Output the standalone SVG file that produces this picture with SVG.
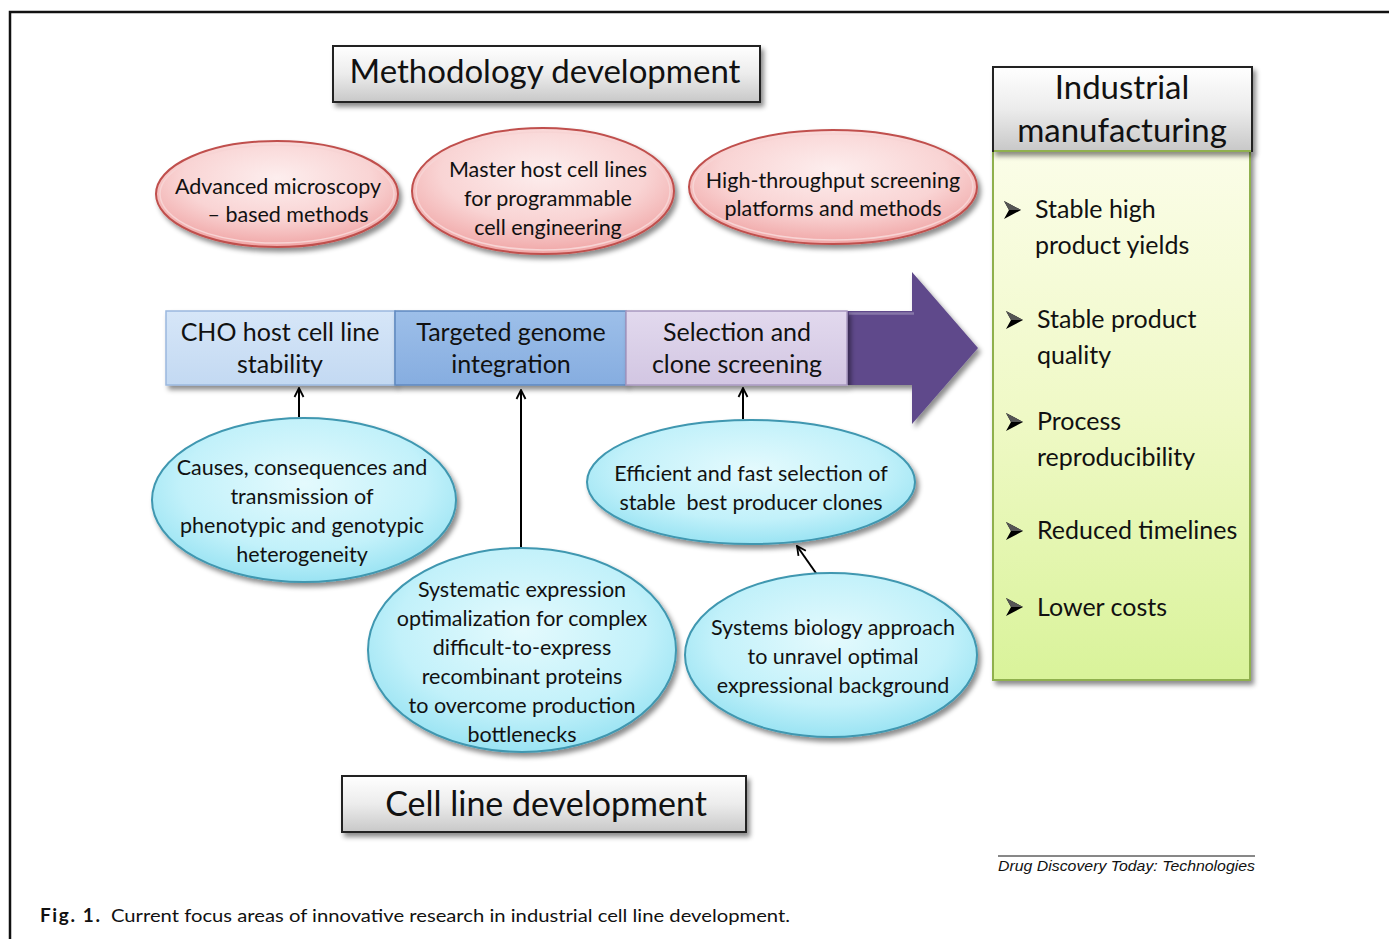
<svg xmlns="http://www.w3.org/2000/svg" width="1389" height="939" viewBox="0 0 1389 939">
  <defs>
    <filter id="shadow" x="-10%" y="-10%" width="125%" height="130%">
      <feDropShadow dx="3" dy="4" stdDeviation="2.5" flood-color="#000" flood-opacity="0.45"/>
    </filter>
    <linearGradient id="grayBox" x1="0" y1="0" x2="0" y2="1">
      <stop offset="0" stop-color="#ffffff"/>
      <stop offset="0.5" stop-color="#ececec"/>
      <stop offset="1" stop-color="#c8c8c8"/>
    </linearGradient>
    <linearGradient id="greenBody" x1="0" y1="0" x2="0" y2="1">
      <stop offset="0" stop-color="#fbfde8"/>
      <stop offset="0.5" stop-color="#eff9c6"/>
      <stop offset="1" stop-color="#d9f39a"/>
    </linearGradient>
    <radialGradient id="pinkFill" cx="0.5" cy="0.35" r="0.65">
      <stop offset="0" stop-color="#fdeeee"/>
      <stop offset="0.6" stop-color="#f9d4d4"/>
      <stop offset="1" stop-color="#f0a6a6"/>
    </radialGradient>
    <radialGradient id="cyanFill" cx="0.5" cy="0.4" r="0.62">
      <stop offset="0" stop-color="#e4fafd"/>
      <stop offset="0.65" stop-color="#c2f1fa"/>
      <stop offset="1" stop-color="#96e2f2"/>
    </radialGradient>
    <linearGradient id="barLight" x1="0" y1="0" x2="0" y2="1">
      <stop offset="0" stop-color="#d6e6f8"/>
      <stop offset="1" stop-color="#c3d9f2"/>
    </linearGradient>
    <linearGradient id="barMid" x1="0" y1="0" x2="0" y2="1">
      <stop offset="0" stop-color="#9dbfe9"/>
      <stop offset="1" stop-color="#86ade0"/>
    </linearGradient>
    <linearGradient id="barLav" x1="0" y1="0" x2="0" y2="1">
      <stop offset="0" stop-color="#e2d9ee"/>
      <stop offset="1" stop-color="#d2c6e2"/>
    </linearGradient>
    <marker id="arrowHead" viewBox="0 0 12 12" refX="11" refY="6" markerWidth="12" markerHeight="12" markerUnits="userSpaceOnUse" orient="auto">
      <path d="M2,1.5 L11,6 L2,10.5" fill="none" stroke="#000" stroke-width="1.8"/>
    </marker>
    <g id="bullet">
      <path d="M0,-9 L17,0 L0,9 L5,0 Z" fill="#000"/>
      <path d="M0,-9 L17,0 L5,0 Z" fill="#555"/>
    </g>
    <style>
      text { font-family: Lato, "Open Sans", "Liberation Sans", sans-serif; fill: #111; }
      .title { font-size: 33px; text-anchor: middle; }
      .oval { font-size: 21.5px; text-anchor: middle; }
      .bar { font-size: 25px; text-anchor: middle; }
      .item { font-size: 25px; }
      .grayframe { fill: url(#grayBox); stroke: #222; stroke-width: 2; }
      .pink { fill: url(#pinkFill); stroke: #c0504d; stroke-width: 2; }
      .pinkInner { fill: none; stroke: #f7d4d4; stroke-width: 1.5; }
      .cyan { fill: url(#cyanFill); stroke: #3f97b0; stroke-width: 2; }
      .link { stroke: #000; stroke-width: 2; fill: none; marker-end: url(#arrowHead); }
    </style>
  </defs>

  <rect width="1389" height="939" fill="#ffffff"/>

  <!-- page frame -->
  <path d="M10,939 L10,12 L1389,12" fill="none" stroke="#111" stroke-width="2.5"/>

  <!-- header: methodology -->
  <g id="methodology">
    <rect x="333" y="46" width="427" height="56" class="grayframe" filter="url(#shadow)"/>
    <text x="545" y="83" class="title">Methodology development</text>
  </g>

  <!-- methodology ovals -->
  <g id="microscopy">
    <ellipse cx="277" cy="194" rx="121" ry="53" class="pink" filter="url(#shadow)"/>
    <ellipse cx="277" cy="194" rx="117" ry="49" class="pinkInner"/>
    <text x="278" y="194" class="oval">Advanced microscopy</text>
    <text x="288" y="222" class="oval">– based methods</text>
  </g>
  <g id="master-host">
    <ellipse cx="543" cy="191" rx="131" ry="63" class="pink" filter="url(#shadow)"/>
    <ellipse cx="543" cy="191" rx="127" ry="59" class="pinkInner"/>
    <text x="548" y="177" class="oval">Master host cell lines</text>
    <text x="548" y="206" class="oval">for programmable</text>
    <text x="548" y="235" class="oval">cell engineering</text>
  </g>
  <g id="high-throughput">
    <ellipse cx="833" cy="187" rx="144" ry="57" class="pink" filter="url(#shadow)"/>
    <ellipse cx="833" cy="187" rx="140" ry="53" class="pinkInner"/>
    <text x="833" y="188" class="oval">High-throughput screening</text>
    <text x="833" y="216" class="oval">platforms and methods</text>
  </g>

  <!-- process bar -->
  <g id="process-arrow">
    <path d="M847,311 L912,311 L912,272 L978,348 L912,424 L912,385 L847,385 Z" fill="#5f4a8b" filter="url(#shadow)"/>
    <path d="M849,313.5 L914,313.5" fill="none" stroke="#8676a8" stroke-width="2.5"/>
  </g>
  <g id="cho-stability">
    <rect x="166" y="311" width="229" height="74" fill="url(#barLight)" stroke="#9bb8de" stroke-width="1.5" filter="url(#shadow)"/>
    <text x="280" y="341" class="bar">CHO host cell line</text>
    <text x="280" y="373" class="bar">stability</text>
  </g>
  <g id="genome-integration">
    <rect x="395" y="311" width="231" height="74" fill="url(#barMid)" stroke="#5f89c0" stroke-width="1.5" filter="url(#shadow)"/>
    <text x="511" y="341" class="bar">Targeted genome</text>
    <text x="511" y="373" class="bar">integration</text>
  </g>
  <g id="clone-screening">
    <rect x="626" y="311" width="221" height="74" fill="url(#barLav)" stroke="#a898c0" stroke-width="1.5" filter="url(#shadow)"/>
    <text x="737" y="341" class="bar">Selection and</text>
    <text x="737" y="373" class="bar">clone screening</text>
  </g>

  <!-- connectors -->
  <g id="connectors">
    <line x1="299" y1="417" x2="299" y2="388" class="link"/>
    <line x1="521" y1="549" x2="521" y2="390" class="link"/>
    <line x1="743" y1="419" x2="743" y2="388" class="link"/>
    <line x1="818" y1="576" x2="797" y2="546" class="link"/>
  </g>

  <!-- cell line development ovals -->
  <g id="heterogeneity">
    <ellipse cx="304" cy="500" rx="152" ry="82" class="cyan" filter="url(#shadow)"/>
    <text x="302" y="475" class="oval">Causes, consequences and</text>
    <text x="302" y="504" class="oval">transmission of</text>
    <text x="302" y="533" class="oval">phenotypic and genotypic</text>
    <text x="302" y="562" class="oval">heterogeneity</text>
  </g>
  <g id="best-producers">
    <ellipse cx="751" cy="482" rx="164" ry="62" class="cyan" filter="url(#shadow)"/>
    <text x="751" y="481" class="oval">Efficient and fast selection of</text>
    <text x="751" y="510" class="oval" xml:space="preserve">stable  best producer clones</text>
  </g>
  <g id="expression-optimization">
    <ellipse cx="522" cy="650" rx="154" ry="102" class="cyan" filter="url(#shadow)"/>
    <text x="522" y="597" class="oval">Systematic expression</text>
    <text x="522" y="626" class="oval">optimalization for complex</text>
    <text x="522" y="655" class="oval">difficult-to-express</text>
    <text x="522" y="684" class="oval">recombinant proteins</text>
    <text x="522" y="713" class="oval">to overcome production</text>
    <text x="522" y="742" class="oval">bottlenecks</text>
  </g>
  <g id="systems-biology">
    <ellipse cx="831" cy="655" rx="146" ry="82" class="cyan" filter="url(#shadow)"/>
    <text x="833" y="635" class="oval">Systems biology approach</text>
    <text x="833" y="664" class="oval">to unravel optimal</text>
    <text x="833" y="693" class="oval">expressional background</text>
  </g>

  <!-- industrial manufacturing panel -->
  <g id="industrial">
    <rect x="993" y="151" width="257" height="529" fill="url(#greenBody)" stroke="#8fb04e" stroke-width="2" filter="url(#shadow)"/>
    <rect x="993" y="67" width="259" height="84" class="grayframe" filter="url(#shadow)"/>
    <line x1="994" y1="151" x2="1251" y2="151" stroke="#8fb04e" stroke-width="2"/>
    <text x="1122" y="99" class="title">Industrial</text>
    <text x="1122" y="142" class="title">manufacturing</text>
    <use href="#bullet" x="1004" y="210"/>
    <text x="1035" y="218" class="item">Stable high</text>
    <text x="1035" y="254" class="item">product yields</text>
    <use href="#bullet" x="1006" y="320"/>
    <text x="1037" y="328" class="item">Stable product</text>
    <text x="1037" y="364" class="item">quality</text>
    <use href="#bullet" x="1006" y="422"/>
    <text x="1037" y="430" class="item">Process</text>
    <text x="1037" y="466" class="item">reproducibility</text>
    <use href="#bullet" x="1006" y="531"/>
    <text x="1037" y="539" class="item">Reduced timelines</text>
    <use href="#bullet" x="1006" y="607"/>
    <text x="1037" y="616" class="item">Lower costs</text>
  </g>

  <!-- footer: cell line development -->
  <g id="cell-line-development">
    <rect x="342" y="776" width="404" height="56" class="grayframe" filter="url(#shadow)"/>
    <text x="546" y="816" class="title" style="font-size:34px">Cell line development</text>
  </g>

  <!-- source credit -->
  <line x1="998" y1="856" x2="1255" y2="856" stroke="#111" stroke-width="1"/>
  <text x="1255" y="871" text-anchor="end" textLength="257" lengthAdjust="spacingAndGlyphs" style="font-family:'Liberation Sans Narrow','Liberation Sans',sans-serif;font-size:15px;font-style:italic">Drug Discovery Today: Technologies</text>

  <!-- caption -->
  <text x="40" y="922" textLength="60" lengthAdjust="spacing" style="font-size:19px;font-weight:bold">Fig. 1.</text>
  <text x="111" y="922" textLength="679" lengthAdjust="spacingAndGlyphs" style="font-size:18px">Current focus areas of innovative research in industrial cell line development.</text>
</svg>
